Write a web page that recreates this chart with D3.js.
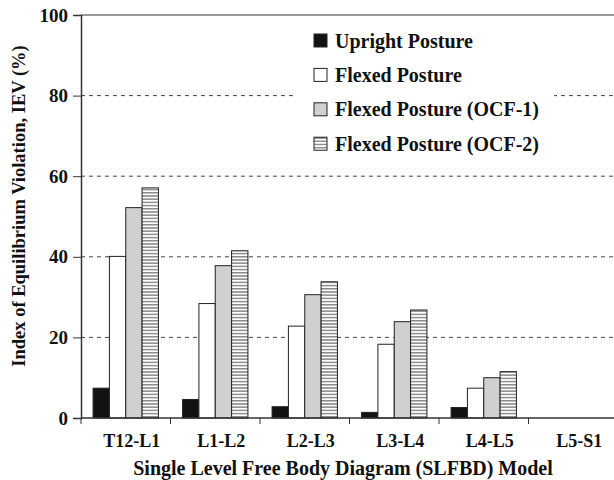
<!DOCTYPE html>
<html>
<head>
<meta charset="utf-8">
<script src="https://cdn.jsdelivr.net/npm/d3@7"></script>
<style>
    body { margin: 0; background: #fff; }
    text { font-family: "Liberation Serif", "Times New Roman", serif; font-weight: bold; fill: #111; }
</style>
</head>
<body>
<div class="canvas"></div>
<script>
const categories = ['T12-L1', 'L1-L2', 'L2-L3', 'L3-L4', 'L4-L5', 'L5-S1'];
const series = ['Upright Posture', 'Flexed Posture', 'Flexed Posture (OCF-1)', 'Flexed Posture (OCF-2)'];
const upright = [7.4, 4.6, 2.8, 1.4, 2.6, 0];
const flexed = [40.1, 28.4, 22.8, 18.3, 7.4, 0];
const ocf1 = [52.2, 37.8, 30.6, 23.9, 10.0, 0];
const ocf2 = [57.1, 41.5, 33.8, 26.8, 11.5, 0];
const yTicks = [0, 20, 40, 60, 80, 100];

const values = [upright, flexed, ocf1, ocf2];
const data = categories.map((c, i) => ({
    cat: c,
    vals: series.map((s, j) => ({ name: s, value: values[j][i] }))
}));

const dims = { width: 614, height: 480 };
const plot = { left: 81, right: 618, top: 15, bottom: 418 };

const svg = d3.select('.canvas')
    .append('svg')
    .attr('width', dims.width)
    .attr('height', dims.height)
;

// hatch pattern for OCF-2
svg.append('defs')
    .append('pattern')
        .attr('id', 'hatch')
        .attr('patternUnits', 'userSpaceOnUse')
        .attr('width', 8)
        .attr('height', 3.2)
    .call(p => p.append('rect').attr('width', 8).attr('height', 3.2).attr('fill', '#fff'))
    .call(p => p.append('rect').attr('width', 8).attr('height', 1.5).attr('fill', '#8a8a8a'))
;

const x0 = d3.scaleBand()
    .domain(categories)
    .range([plot.left, plot.right])
    .padding(0)
;

const x1 = d3.scaleBand()
    .domain(series)
    .range([0, x0.bandwidth()])
    .paddingInner(0)
    .paddingOuter(0.74)
;

const y = d3.scaleLinear()
    .domain([0, 100])
    .range([plot.bottom, plot.top])
;

const fills = {
    'Upright Posture': '#121212',
    'Flexed Posture': '#ffffff',
    'Flexed Posture (OCF-1)': '#d0d0d0',
    'Flexed Posture (OCF-2)': 'url(#hatch)'
};

// gridlines
svg.append('g')
    .selectAll('line')
    .data(yTicks.filter(t => t > 0 && t < 100))
    .enter()
    .append('line')
        .attr('x1', plot.left)
        .attr('x2', dims.width)
        .attr('y1', d => y(d))
        .attr('y2', d => y(d))
        .attr('stroke', '#444')
        .attr('stroke-width', 1)
        .attr('stroke-dasharray', '4,4')
;

// top border
svg.append('line')
    .attr('x1', plot.left)
    .attr('x2', dims.width)
    .attr('y1', y(100))
    .attr('y2', y(100))
    .attr('stroke', '#777')
    .attr('stroke-width', 1.5)
;

// bars
const groups = svg.append('g')
    .selectAll('g')
    .data(data)
    .enter()
    .append('g')
        .attr('transform', d => `translate(${x0(d.cat)}, 0)`)
;

groups.selectAll('rect')
    .data(d => d.vals.filter(v => v.value > 0))
    .enter()
    .append('rect')
        .attr('x', d => x1(d.name))
        .attr('y', d => y(d.value))
        .attr('width', x1.bandwidth())
        .attr('height', d => y(0) - y(d.value))
        .attr('fill', d => fills[d.name])
        .attr('stroke', '#222')
        .attr('stroke-width', 1)
;

// axes
const yAxis = d3.axisLeft(y)
    .tickValues(yTicks)
    .tickSize(8)
    .tickPadding(5)
;
svg.append('g')
    .attr('transform', `translate(${plot.left}, 0)`)
    .call(yAxis)
    .call(g => g.select('.domain').attr('stroke', '#333').attr('stroke-width', 1.5))
    .call(g => g.selectAll('.tick line').attr('stroke', '#333'))
    .call(g => g.selectAll('.tick text').attr('font-size', '19px').attr('font-family', null))
;

const xAxisG = svg.append('g')
    .attr('transform', `translate(0, ${plot.bottom})`)
;
xAxisG.append('line')
    .attr('x1', plot.left)
    .attr('x2', dims.width)
    .attr('stroke', '#333')
    .attr('stroke-width', 1.5)
;
xAxisG.selectAll('.xtick')
    .data(categories)
    .enter()
    .append('line')
        .attr('class', 'xtick')
        .attr('x1', d => x0(d))
        .attr('x2', d => x0(d))
        .attr('y1', 0)
        .attr('y2', 6)
        .attr('stroke', '#333')
;
xAxisG.selectAll('.xlabel')
    .data(categories)
    .enter()
    .append('text')
        .attr('class', 'xlabel')
        .attr('x', d => x0(d) + x0.bandwidth() / 2 + 6)
        .attr('y', 29)
        .attr('text-anchor', 'middle')
        .attr('font-size', '18px')
        .text(d => d)
;

// axis titles
svg.append('text')
    .attr('x', 343)
    .attr('y', 475)
    .attr('text-anchor', 'middle')
    .attr('font-size', '20px')
    .text('Single Level Free Body Diagram (SLFBD) Model')
;

svg.append('text')
    .attr('transform', 'translate(25, 206) rotate(-90)')
    .attr('text-anchor', 'middle')
    .attr('font-size', '18.5px')
    .text('Index of Equilibrium Violation, IEV (%)')
;

// legend
const legend = svg.append('g');
legend.append('rect')
    .attr('x', 294)
    .attr('y', 24)
    .attr('width', 260)
    .attr('height', 136)
    .attr('fill', '#fff')
;
const items = legend.selectAll('g')
    .data(series)
    .enter()
    .append('g')
        .attr('transform', (d, i) => `translate(314, ${40.5 + i * 34.4})`)
;
items.append('rect')
    .attr('x', 0)
    .attr('y', -6.5)
    .attr('width', 13)
    .attr('height', 13)
    .attr('fill', d => fills[d])
    .attr('stroke', '#222')
    .attr('stroke-width', 1)
;
items.append('text')
    .attr('x', 21)
    .attr('y', 7)
    .attr('font-size', '20px')
    .text(d => d)
;
</script>
</body>
</html>
